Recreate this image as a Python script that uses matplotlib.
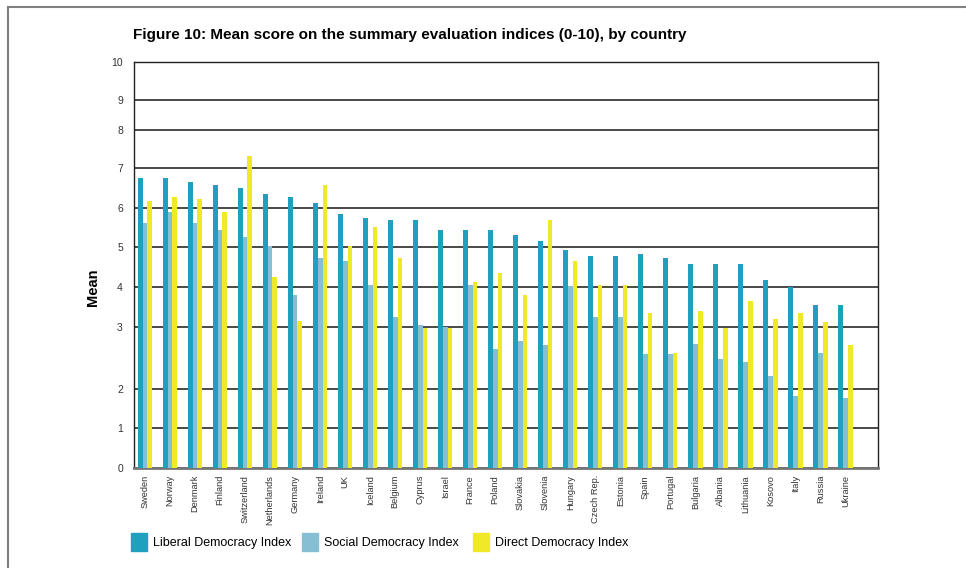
import numpy as np
import matplotlib
matplotlib.use('Agg')
import matplotlib.pyplot as plt
from matplotlib.patches import Patch
from matplotlib.lines import Line2D

plt.rcParams['font.family'] = ['Liberation Sans', 'DejaVu Sans']

countries = ['Sweden', 'Norway', 'Denmark', 'Finland', 'Switzerland', 'Netherlands', 'Germany',
             'Ireland', 'UK', 'Iceland', 'Belgium', 'Cyprus', 'Israel', 'France', 'Poland',
             'Slovakia', 'Slovenia', 'Hungary', 'Czech Rep.', 'Estonia', 'Spain', 'Portugal',
             'Bulgaria', 'Albania', 'Lithuania', 'Kosovo', 'Italy', 'Russia', 'Ukraine']
liberal = [6.75, 6.75, 6.65, 6.58, 6.50, 6.35, 6.28, 6.12, 5.85, 5.74, 5.69, 5.69, 5.44, 5.44,
           5.44, 5.31, 5.15, 4.93, 4.78, 4.78, 4.82, 4.72, 4.57, 4.57, 4.57, 4.18, 4.00, 3.55, 3.55]
social = [5.62, 5.90, 5.62, 5.44, 5.26, 5.03, 3.80, 4.72, 4.65, 4.05, 3.25, 3.05, 3.00, 4.05,
          2.65, 2.77, 2.71, 4.02, 3.25, 3.25, 2.56, 2.56, 2.73, 2.48, 2.44, 2.21, 1.82, 2.58, 1.77]
direct = [6.18, 6.28, 6.22, 5.90, 7.32, 4.25, 3.15, 6.58, 5.03, 5.51, 4.72, 2.98, 2.98, 4.12,
          4.35, 3.80, 5.69, 4.65, 4.05, 4.05, 3.35, 2.58, 3.40, 2.98, 3.65, 3.20, 3.35, 3.12, 2.71]
series_names = ['Liberal Democracy Index', 'Social Democracy Index', 'Direct Democracy Index']
colors = ['#1fa0be', '#86bfd3', '#f0e92a']

# the printed axis is not evenly spaced (gap between 2 and 3 is wider)
yticks = [0, 1, 2, 3, 4, 5, 6, 7, 8, 9, 10]
ypos = [0, 40, 79, 141, 181, 221, 260, 300, 338, 368, 406]


def fwd(v):
    return np.interp(v, yticks, ypos)


def inv(p):
    return np.interp(p, ypos, yticks)


fig = plt.figure(figsize=(9.66, 5.68), dpi=100)
ax = fig.add_axes([134 / 966, 100 / 568, 744 / 966, 406 / 568])
ax.set_yscale('function', functions=(fwd, inv))
ax.set_ylim(0, 10)

x = np.arange(len(countries))
w = 0.19
for i, vals in enumerate([liberal, social, direct]):
    ax.bar(x + (i - 1) * w, vals, w, color=colors[i], label=series_names[i], zorder=3)

ax.set_xlim(-0.44, 29.3)
ax.set_yticks(yticks)
ax.set_yticklabels([str(t) for t in yticks], fontsize=7.5, color='#333333')
ax.set_xticks(x)
ax.set_xticklabels(countries, rotation=90, fontsize=6.7, color='#333333', va='top')
ax.tick_params(axis='both', length=0)
ax.tick_params(axis='y', pad=8)
ax.tick_params(axis='x', pad=5)
ax.grid(axis='y', color='#3a3a3a', linewidth=1.3, zorder=0)
ax.set_axisbelow(True)

for s in ['left', 'right', 'top']:
    ax.spines[s].set_color('#222222')
    ax.spines[s].set_linewidth(1.0)
ax.spines['bottom'].set_color('#777777')
ax.spines['bottom'].set_linewidth(2)

fig.text(93 / 966, 1 - 287 / 568, 'Mean', rotation=90, fontsize=10.5, fontweight='bold',
         ha='center', va='center')
fig.text(133 / 966, 1 - 35 / 568,
         'Figure 10: Mean score on the summary evaluation indices (0-10), by country',
         fontsize=11, fontweight='bold', ha='left', va='center')

# one legend entry per box, placed where the printed legend sits
legend_x = [131, 302, 473]
for c, name, lx in zip(colors, series_names, legend_x):
    fig.legend([Patch(color=c)], [name], loc='center left',
               bbox_to_anchor=(lx / 966, 1 - 542 / 568), frameon=False, fontsize=9,
               handlelength=1.25, handleheight=1.85, handletextpad=0.5,
               borderpad=0, borderaxespad=0)

# outer frame of the figure box
fig.add_artist(Line2D([8 / 966, 8 / 966], [0, 1 - 7 / 568], color='#808080', lw=1.5,
                      transform=fig.transFigure))
fig.add_artist(Line2D([8 / 966, 1], [1 - 7 / 568, 1 - 7 / 568], color='#808080', lw=1.5,
                      transform=fig.transFigure))

plt.savefig('out.png', dpi=100)
